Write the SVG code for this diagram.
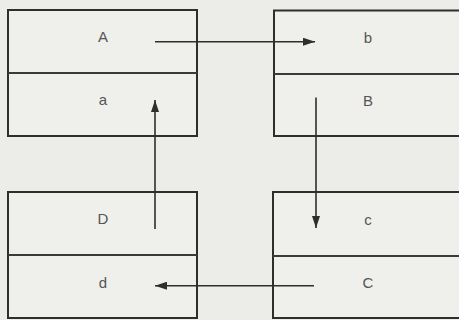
<svg xmlns="http://www.w3.org/2000/svg" width="459" height="320" viewBox="0 0 459 320">
<style>
.box{fill:#efefec;stroke:#2e2e2e;stroke-width:2}
.div{stroke:#3a3a3a;stroke-width:2}
.t{font-family:"Liberation Sans",Arial,sans-serif;font-size:15px;fill:#555;text-anchor:middle}
.c{stroke:#2e2e2e;stroke-width:1.6;fill:none;marker-end:url(#ah)}
</style>
<defs>
<marker id="ah" markerUnits="userSpaceOnUse" markerWidth="12" markerHeight="8" refX="12" refY="4" orient="auto">
<path d="M0,0 L12,4 L0,8 Z" fill="#2e2e2e"/>
</marker>
</defs>
<rect width="459" height="320" fill="#ecece9"/>
<g id="node-Aa">
<rect class="box" x="8" y="10" width="189" height="126"/>
<line class="div" x1="8" y1="73" x2="197" y2="73"/>
<text class="t" x="103" y="42">A</text>
<text class="t" x="103" y="105">a</text>
</g>
<g id="node-bB">
<rect class="box" x="274" y="10.5" width="190" height="125.5"/>
<line class="div" x1="274" y1="74" x2="464" y2="74"/>
<text class="t" x="368" y="43">b</text>
<text class="t" x="368" y="106">B</text>
</g>
<g id="node-Dd">
<rect class="box" x="8" y="192" width="189" height="126"/>
<line class="div" x1="8" y1="255" x2="197" y2="255"/>
<text class="t" x="103" y="224">D</text>
<text class="t" x="103" y="288">d</text>
</g>
<g id="node-cC">
<rect class="box" x="273" y="192" width="191" height="126"/>
<line class="div" x1="273" y1="256" x2="464" y2="256"/>
<text class="t" x="368" y="225">c</text>
<text class="t" x="368" y="288">C</text>
</g>
<g id="connectors">
<line class="c" x1="155" y1="41.7" x2="315" y2="41.7"/>
<line class="c" x1="316" y1="97.5" x2="316" y2="228"/>
<line class="c" x1="314" y1="285.7" x2="155" y2="285.7"/>
<line class="c" x1="155" y1="229" x2="155" y2="100"/>
</g>
</svg>
